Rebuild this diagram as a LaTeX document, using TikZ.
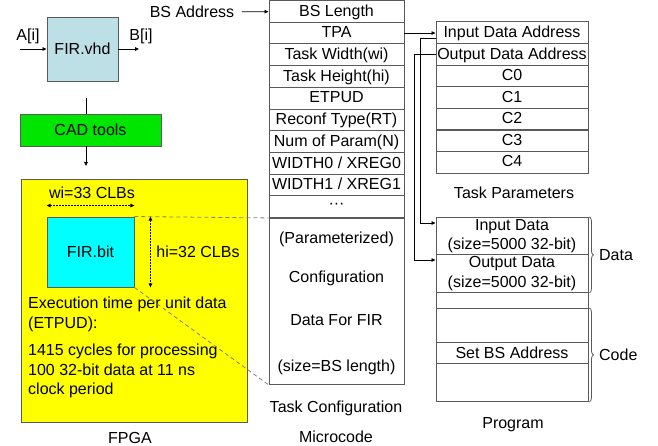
\documentclass[tikz,border=0pt]{standalone}
\usepackage{fontspec}
\setmainfont{Liberation Sans}
\usetikzlibrary{positioning,calc,arrows.meta,decorations.pathreplacing}
\definecolor{vhdcol}{HTML}{BCE0E6}
\definecolor{cadcol}{HTML}{00E600}
\definecolor{fpgacol}{HTML}{FFFF00}
\definecolor{bitcol}{HTML}{00FFFF}
\definecolor{edgecol}{HTML}{5A5A5A}
\definecolor{guidecol}{HTML}{808080}

\begin{document}
\begin{tikzpicture}[x=1pt,y=-1pt,font=\fontsize{16}{19.5}\selectfont,
  box/.style={draw=edgecol,line width=0.9pt,inner sep=0pt},
  cell/.style={box,minimum width=#1,minimum height=21.7pt,text depth=2pt},
  link/.style={line width=0.8pt,-{Triangle[length=4pt,width=3.5pt]}},
  dim/.style={line width=0.8pt,dash pattern=on 1.5pt off 1.5pt,{Triangle[length=4pt,width=3.5pt]}-{Triangle[length=4pt,width=3.5pt]}},
  guide/.style={draw=guidecol,line width=0.8pt,dash pattern=on 4pt off 3pt},
  brace/.style={draw=edgecol,line width=0.8pt,decorate,decoration={brace,amplitude=4pt}}]
  \useasboundingbox (0,0) rectangle (658,446);

  % design flow
  \node[box,fill=vhdcol,minimum width=71pt,minimum height=64pt] (firvhd) at (82.5,49) {FIR.vhd};
  \coordinate (ain) at (20,49);
  \coordinate (bout) at (139,49);
  \node (alabel) at (28,36) {A[i]};
  \node (blabel) at (141,36) {B[i]};
  \draw[link] (ain) -- (firvhd);
  \draw[link] (firvhd) -- (bout);
  \node[box,fill=cadcol,minimum width=141pt,minimum height=32pt] (cad) at (90.5,130) {CAD tools};
  \coordinate (cadin) at (86,98);
  \draw[line width=0.8pt] (cadin) -- (cadin |- cad.north);

  % FPGA
  \node[box,fill=fpgacol,minimum width=226pt,minimum height=243pt,anchor=north west] (fpga) at (21,179) {};
  \draw[link,shorten >=13pt] (cadin |- cad.south) -- (cadin |- fpga.north);
  \node (fpgalbl) at (130,437.5) {FPGA};
  \node[box,fill=bitcol,minimum width=87pt,minimum height=70pt] (firbit) at (90.5,252) {FIR.bit};
  \node (wilbl) at (92,193) {wi=33 CLBs};
  \node (hilbl) at (198,252) {hi=32 CLBs};
  \draw[dim] ([yshift=11pt]firbit.north west) -- ([yshift=11pt]firbit.north east);
  \draw[dim] ([xshift=16pt]firbit.north east) -- ([xshift=16pt]firbit.south east);
  \node[anchor=north west,align=left,inner sep=0pt] (etpud) at (28,297) {Execution time per unit data\\(ETPUD):};
  \node[anchor=north west,align=left,inner sep=0pt] (cycles) at (28,344) {1415 cycles for processing\\100 32-bit data at 11 ns\\clock period};

  % microcode
  \def\mcrows{BS Length,TPA,Task Width(wi),Task Height(hi),ETPUD,Reconf Type(RT),Num of Param(N),WIDTH0 / XREG0,WIDTH1 / XREG1,···}
  \foreach [count=\i] \txt in \mcrows
    \node[cell=135pt] (mc\i) at (336.5,{0.5+(\i-0.5)*21.7}) {\txt};
  \node[box,minimum width=135pt,minimum height=166pt,anchor=north] (mcfir) at (mc10.south) {};
  \node (cfg1) at ($(mcfir.north)+(0,21.5)$) {(Parameterized)};
  \node (cfg2) at ($(mcfir.north)+(0,60.5)$) {Configuration};
  \node (cfg3) at ($(mcfir.north)+(0,102.5)$) {Data For FIR};
  \node (cfg4) at ($(mcfir.north)+(0,149.5)$) {(size=BS length)};
  \node (mclbl1) at (336,408) {Task Configuration};
  \node (mclbl2) at (336,437) {Microcode};
  \node (bsaddr) at (192,12) {BS Address};
  \draw[link,shorten <=4pt] (bsaddr) -- (mc1);
  \draw[guide] (firbit.north east) -- (mcfir.north west);
  \draw[guide] (firbit.south east) -- (mcfir.south west);

  % task parameters
  \def\tprows{Input Data Address,Output Data Address,C0,C1,C2,C3,C4}
  \foreach [count=\i] \txt in \tprows
    \node[cell=152pt] (tp\i) at (512,{22+(\i-0.5)*21.6}) {\txt};
  \node (tplbl) at (514,193) {Task Parameters};
  \draw[link] (mc2.east) -- (mc2.east -| tp1.west);

  % program
  \def\prows{in/217/37/{Input Data\\(size=5000 32-bit)},out/254/38/{Output Data\\(size=5000 32-bit)},gap/292/16/{},top/308/34/{},set/342/21/{Set BS Address},bot/363/38/{}}
  \foreach \nm/\yt/\hh/\txt in \prows
    \node[box,minimum width=152pt,minimum height=\hh pt,anchor=north,align=center] (p\nm) at (512,\yt) {\txt};
  \node (plbl) at (513,425) {Program};
  \draw[link] ([yshift=6pt]tp1.south west) -- ++(-15,0) |- ([yshift=-6pt]pin.north west);
  \draw[link] (tp2.west) -- ++(-21,0) |- ([yshift=-6pt]pout.north west);
  \draw[brace] ([xshift=1pt]pin.north east) -- ([xshift=1pt]pout.south east) node[midway,right=6pt] (datalbl) {Data};
  \draw[brace] ([xshift=1pt]ptop.north east) -- ([xshift=1pt]pbot.south east) node[midway,right=6pt] (codelbl) {Code};
\end{tikzpicture}
\end{document}
